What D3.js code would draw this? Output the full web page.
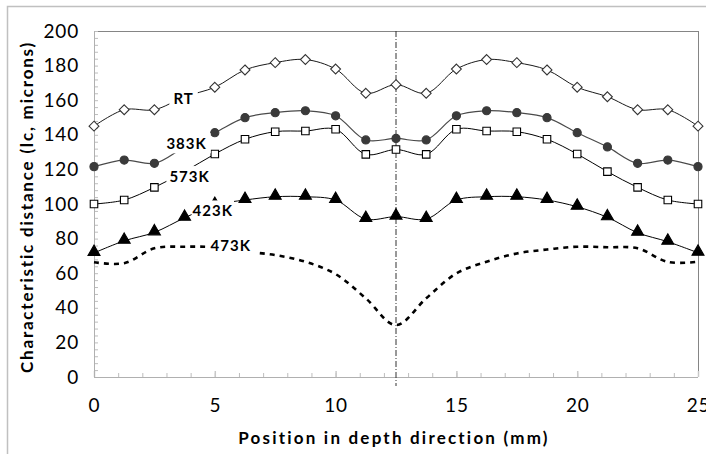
<!DOCTYPE html>
<html>
<head>
<meta charset="utf-8">
<script src="https://cdn.jsdelivr.net/npm/d3@7"></script>
<style>
    body{ margin:0; background:#fff; }
    svg{ display:block; }
    .tick-label{ font-family: Lato, "Open Sans", sans-serif; font-size:19px; letter-spacing:0.8px; fill:#000; }
    .axis-title{ font-family: Lato, "Open Sans", sans-serif; font-size:17px; font-weight:bold; fill:#000; }
    .series-label{ font-family: Lato, "Open Sans", sans-serif; font-size:15px; font-weight:bold; letter-spacing:1px; fill:#000; }
</style>
</head>
<body>
<div id="chart"></div>
<script>
// positions along depth (mm)
let positions = [0, 1.25, 2.5, 3.75, 5, 6.25, 7.5, 8.75, 10, 11.25, 12.5, 13.75, 15, 16.25, 17.5, 18.75, 20, 21.25, 22.5, 23.75, 25];

// characteristic distance (lc, microns) per temperature
let rtValues   = [145, 154.5, 154.5, 162, 167.5, 177.5, 181.7, 183.5, 178, 164, 169, 164, 178, 183.5, 181.7, 177.5, 167.5, 162, 154.5, 154.5, 145];
let k383Values = [121.6, 125.4, 123.5, 133, 141.2, 149.9, 152.8, 153.9, 151, 137, 137.9, 137, 151, 153.9, 152.8, 149.9, 141.2, 133, 123.5, 125.4, 121.6];
let k573Values = [100, 102.3, 109.6, 118.7, 128.9, 137.4, 141.8, 142.2, 143.2, 128.7, 131.5, 128.7, 143.2, 142.2, 141.8, 137.4, 128.9, 118.7, 109.6, 102.3, 100];
let k423Values = [71.7, 78.7, 83.6, 92, 99.4, 102.3, 104.2, 104.2, 102.3, 91.3, 92.7, 91.3, 102.3, 104.2, 104.2, 102.3, 98.4, 92.3, 83.4, 78.2, 71.8];
let k473Values = [66.3, 65.8, 74.4, 75.3, 75, 72.5, 70.5, 66.6, 59.5, 45.5, 30, 45.5, 59.9, 66.6, 71.4, 73.7, 75.3, 75, 74.4, 66.5, 66.6];

let seriesNames = ["RT", "383K", "573K", "423K", "473K"];
let yTickValues = [0, 20, 40, 60, 80, 100, 120, 140, 160, 180, 200];
let xTickValues = [0, 5, 10, 15, 20, 25];
let centerPosition = 12.5;

let xTitle = "Position in depth direction (mm)";
let yTitle = "Characteristic distance (lc, microns)";

let width = 706, height = 454;
let margin = {left: 94, top: 31, right: 8, bottom: 77};
let innerWidth = width - margin.left - margin.right;
let innerHeight = height - margin.top - margin.bottom;

let svg = d3.select("#chart").append("svg")
    .attr("width", width)
    .attr("height", height);

// chart area border (excel style)
svg.append("rect")
    .attr("x", 7.5).attr("y", 6.5)
    .attr("width", width).attr("height", height)
    .attr("fill", "none")
    .attr("stroke", "#c0c0c0")
    .attr("stroke-width", 1.5);

let root = svg.append("g")
    .attr("transform", "translate(" + margin.left + "," + margin.top + ")");

let xScale = d3.scaleLinear().domain([0, 25]).range([0, innerWidth]);
let yScale = d3.scaleLinear().domain([0, 200]).range([innerHeight, 0]);

// plot frame: top and right darker, axes lighter
root.append("line")
    .attr("x1", 0).attr("x2", innerWidth).attr("y1", 0.5).attr("y2", 0.5)
    .attr("stroke", "#858585");
root.append("line")
    .attr("x1", innerWidth + 0.5).attr("x2", innerWidth + 0.5).attr("y1", 0).attr("y2", innerHeight)
    .attr("stroke", "#858585");

// y axis: minor ticks every 4, labels every 20
let yMinor = root.append("g")
    .call(d3.axisLeft(yScale).tickValues(d3.range(0, 201, 4)).tickSizeInner(-4).tickSizeOuter(0).tickFormat(""));
yMinor.select(".domain").remove();
yMinor.selectAll("line").attr("stroke", "#bdbdbd");

let yMajor = root.append("g")
    .call(d3.axisLeft(yScale).tickValues(yTickValues).tickSizeInner(0).tickSizeOuter(0).tickPadding(15));
yMajor.select(".domain").remove();
yMajor.selectAll("line").remove();
yMajor.selectAll("text").attr("class", "tick-label").attr("font-family", null).attr("font-size", null);

// x axis: minor ticks every 1, major every 5
let xMinor = root.append("g")
    .attr("transform", "translate(0," + innerHeight + ")")
    .call(d3.axisBottom(xScale).tickValues(d3.range(0, 26, 1)).tickSizeInner(-4).tickSizeOuter(0).tickFormat(""));
xMinor.select(".domain").remove();
xMinor.selectAll("line").attr("stroke", "#bdbdbd");

let xMajor = root.append("g")
    .attr("transform", "translate(0," + innerHeight + ")")
    .call(d3.axisBottom(xScale).tickValues(xTickValues).tickSizeInner(-6).tickSizeOuter(0).tickPadding(22));
xMajor.select(".domain").remove();
xMajor.selectAll("line").attr("stroke", "#c8c8c8").attr("stroke-width", 1.5);
xMajor.selectAll("text").attr("class", "tick-label").attr("font-family", null).attr("font-size", null);

// axis lines
root.append("line")
    .attr("x1", 0.5).attr("x2", 0.5).attr("y1", 0).attr("y2", innerHeight)
    .attr("stroke", "#b0b0b0");
root.append("line")
    .attr("x1", 0).attr("x2", innerWidth).attr("y1", innerHeight + 0.5).attr("y2", innerHeight + 0.5)
    .attr("stroke", "#b0b0b0");

// center marker line
root.append("line")
    .attr("x1", xScale(centerPosition)).attr("x2", xScale(centerPosition))
    .attr("y1", 0).attr("y2", innerHeight + 9)
    .attr("stroke", "#333")
    .attr("stroke-width", 1)
    .attr("stroke-dasharray", "6,2,1,2");

let lineGen = d3.line()
    .x(function(d){ return xScale(d[0]); })
    .y(function(d){ return yScale(d[1]); })
    .curve(d3.curveCatmullRom.alpha(0.5));

let series = [
    {name: seriesNames[0], values: rtValues,   stroke: "#1a1a1a", width: 1,   marker: "diamond"},
    {name: seriesNames[1], values: k383Values, stroke: "#4a4a4a", width: 1.2, marker: "circle"},
    {name: seriesNames[2], values: k573Values, stroke: "#000",    width: 1,   marker: "square"},
    {name: seriesNames[3], values: k423Values, stroke: "#000",    width: 1,   marker: "triangle"},
    {name: seriesNames[4], values: k473Values, stroke: "#000",    width: 2.6, marker: null, dash: "5,5"}
];

let symbolTypes = {
    diamond: {type: d3.symbolDiamond2, size: 62, fill: "#fff", stroke: "#333"},
    circle: {type: d3.symbolCircle, size: 52, fill: "#3a3a3a", stroke: "#3a3a3a"},
    square: {type: d3.symbolSquare2, size: 72, fill: "#fff", stroke: "#000"},
    triangle: {type: d3.symbolTriangle, size: 62, fill: "#000", stroke: "#000"}
};

series.forEach(function(s){
    let points = positions.map(function(p, i){ return [p, s.values[i]]; });
    let g = root.append("g").attr("class", "series");

    g.append("path")
        .datum(points)
        .attr("d", lineGen)
        .attr("fill", "none")
        .attr("stroke", s.stroke)
        .attr("stroke-width", s.width)
        .attr("stroke-dasharray", s.dash || null);

    if(s.marker){
        let sym = symbolTypes[s.marker];
        g.selectAll(".marker")
            .data(points)
            .enter().append("path")
            .attr("class", "marker")
            .attr("d", d3.symbol().type(sym.type).size(sym.size))
            .attr("transform", function(d){
                let dy = s.marker === "triangle" ? -1 : 0;
                return "translate(" + xScale(d[0]) + "," + (yScale(d[1]) + dy) + ")";
            })
            .attr("fill", sym.fill)
            .attr("stroke", sym.stroke)
            .attr("stroke-width", 1.1);
    }
});

// data labels with white background, anchored on a point of each series
let labelLayout = [
    {index: 3, dx: -1, dy: 2, padX: 4},
    {index: 3, dx: 2, dy: -3, padX: 4},
    {index: 3, dx: 5, dy: 5, padX: 3},
    {index: 4, dx: -2, dy: 6, padX: 1},
    {index: 4, dx: 16, dy: -2, padX: 5}
];

series.forEach(function(s, i){
    let lay = labelLayout[i];
    let cx = xScale(positions[lay.index]) + lay.dx;
    let cy = yScale(s.values[lay.index]) + lay.dy;
    let g = root.append("g").attr("class", "data-label");
    let bg = g.append("rect").attr("fill", "#fff");
    let txt = g.append("text")
        .attr("class", "series-label")
        .attr("x", cx).attr("y", cy)
        .attr("dy", "0.36em")
        .attr("text-anchor", "middle")
        .text(s.name);
    let box = txt.node().getBBox();
    bg.attr("x", box.x - lay.padX).attr("y", box.y - 1)
        .attr("width", box.width + lay.padX * 2).attr("height", box.height + 2);
});

// axis titles
svg.append("text")
    .attr("class", "axis-title")
    .attr("x", margin.left + xScale(12.5) - 2)
    .attr("y", 444)
    .attr("text-anchor", "middle")
    .attr("letter-spacing", "2.2px")
    .text(xTitle);

svg.append("text")
    .attr("class", "axis-title")
    .attr("transform", "translate(33," + 207 + ") rotate(-90)")
    .attr("text-anchor", "middle")
    .attr("letter-spacing", "1.8px")
    .text(yTitle);
</script>
</body>
</html>
